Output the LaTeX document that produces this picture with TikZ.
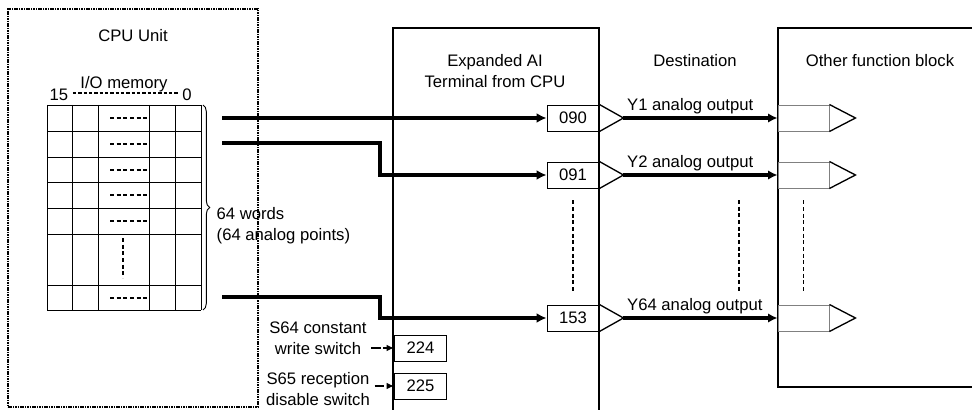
\documentclass[tikz,border=0pt]{standalone}
\usepackage{fontspec}
\setmainfont{Liberation Sans}
\usetikzlibrary{arrows.meta,positioning,decorations.pathreplacing}

\begin{document}
\begin{tikzpicture}[
        x=0.75pt, y=-0.75pt,
        font=\fontsize{12.5}{15.5}\selectfont,
        term/.style={draw, line width=0.7pt, minimum width=39pt, minimum height=19.5pt, inner sep=0pt},
        inport/.style={draw=gray, line width=0.7pt, minimum width=38.25pt, minimum height=19.5pt, inner sep=0pt},
        bus/.style={-{Latex[length=7.5pt,width=7.5pt]}, line width=3pt},
        outarr/.style={-{Latex[length=7pt,width=7pt]}, line width=2.6pt},
        sw/.style={-{Latex[length=5.5pt,width=5pt]}, line width=1.6pt, dash pattern=on 7pt off 2pt},
        dots/.style={dash pattern=on 3pt off 2pt, line width=1.1pt}
    ]
    \useasboundingbox (0,0) rectangle (972,410);

    % CPU side
    \node[draw, dash pattern=on 1.2pt off 0.6pt, line width=0.8pt, minimum width=187.5pt, minimum height=298.5pt] (cpu) at (133,208) {};
    \node (cpulbl) at (133,36) {CPU Unit};
    \foreach \x in {47,72.5,98.5,149.5,175.5,201}
        \draw[line width=0.7pt] (\x,105) -- (\x,310);
    \foreach \y in {105,131,157,182,208,234,285,310}
        \draw[line width=0.7pt] (47,\y) -- (201,\y);
    \foreach \y in {118,144,170,195,221,298}
        \draw[dots] (110,\y) -- (149.5,\y);
    \draw[dots] (123,238) -- (123,278);
    \node (bit15) at (59,95) {15};
    \node (bit0) at (187,95) {0};
    \node (iomem) at (124,84) {I/O memory};
    \draw[dash pattern=on 2.5pt off 1.5pt, line width=1pt] (bit15.east |- 0,93) -- (bit0.west |- 0,93);
    \draw[decorate, decoration={brace, amplitude=5pt}, line width=0.7pt] (203,105) -- (203,310);
    \node[anchor=west, align=left] (words) at (212,226) {64 words\\(64 analog points)};

    % expanded AI terminals
    \node[draw, line width=1.2pt, minimum width=154.5pt, minimum height=294pt] (ai) at (496,224) {};
    \node[align=center] (ailbl) at (495,71) {Expanded AI\\Terminal from CPU};
    \node[term] (t090) at (573,118) {090};
    \node[term] (t091) at (573,175) {091};
    \node[term] (t153) at (573,318) {153};
    \node[term] (t224) at (420.5,348) {224};
    \node[term] (t225) at (420.5,386) {225};
    \foreach \t in {090,091,153} {
        \coordinate (a\t) at ([xshift=18pt]t\t.east);
        \draw[line width=1pt] (t\t.north east) -- (a\t) -- (t\t.south east);
    }
    \draw[dots] ([yshift=-9pt]t091.south) -- ([yshift=9pt]t153.north);

    % buses from I/O memory
    \coordinate (w1) at (222,118);
    \coordinate (w2) at (222,143);
    \coordinate (w3) at (222,297);
    \draw[bus] (w1) -- (t090.west);
    \draw[bus] (w2) -- (380,143) |- (t091.west);
    \draw[bus] (w3) -- (380,297) |- (t153.west);

    % switches
    \node[align=center] (s64) at (318,338.5) {S64 constant\\write switch};
    \node[align=center] (s65) at (318,389) {S65 reception\\disable switch};
    \draw[sw] (s64.east |- t224.west) -- (t224.west);
    \draw[sw] (s65.east |- t225.west) -- (t225.west);

    % destination
    \node (dest) at (695,61) {Destination};
    \node[draw, line width=1.2pt, minimum width=147.75pt, minimum height=269.25pt] (other) at (876.5,207.5) {};
    \node (otherlbl) at (880,61) {Other function block};
    \node[inport] (p1) at (803.5,118) {};
    \node[inport] (p2) at (803.5,175) {};
    \node[inport] (p64) at (803.5,318) {};
    \foreach \p in {p1,p2,p64}
        \draw[line width=1pt] (\p.north east) -- ([xshift=19.5pt]\p.east) -- (\p.south east);
    \draw[outarr] (a090) -- (p1.west) node[pos=0, anchor=south west, inner sep=1.5pt] (y1) {Y1 analog output};
    \draw[outarr] (a091) -- (p2.west) node[pos=0, anchor=south west, inner sep=1.5pt] (y2) {Y2 analog output};
    \draw[outarr] (a153) -- (p64.west) node[pos=0, anchor=south west, inner sep=1.5pt] (y64) {Y64 analog output};
    \draw[dots] (739,200) -- (739,293);
    \draw[dots] ([yshift=-9pt]p2.south) -- ([yshift=9pt]p64.north);
\end{tikzpicture}
\end{document}
